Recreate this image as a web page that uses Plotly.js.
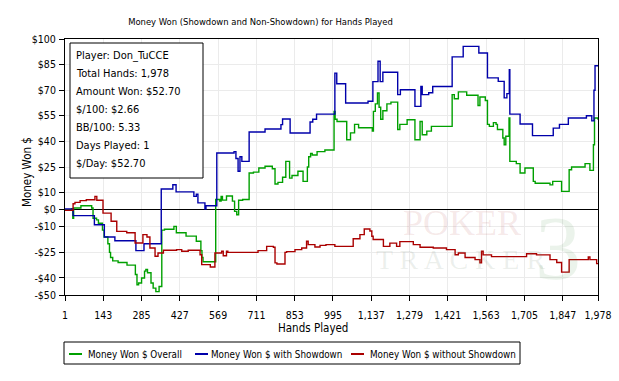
<!DOCTYPE html>
<html>
<head>
<meta charset="utf-8">
<script src="https://cdn.plot.ly/plotly-3.0.1.min.js"></script>
<style>html,body{margin:0;padding:0;background:#fff;}#chart{width:619px;height:381px;}</style>
</head>
<body>
<div id="chart"></div>
<script>
// ---- data ----
const overallHands = [1,25,30,33,60,100,105,118,125,140,146,160,166,170,178,198,231,262,268,274,285,296,301,307,320,328,338,350,360,370,405,414,450,488,505,509,513,560,575,580,585,600,622,630,638,645,660,684,700,720,743,770,780,791,808,820,834,843,865,884,900,905,912,918,936,965,999,1003,1010,1046,1060,1075,1090,1141,1145,1152,1160,1166,1172,1180,1195,1210,1235,1243,1270,1299,1318,1326,1343,1360,1437,1445,1460,1491,1533,1540,1560,1568,1575,1590,1600,1605,1625,1630,1636,1648,1651,1675,1689,1707,1738,1745,1800,1810,1843,1871,1880,1930,1948,1961,1965,1978];
const overallWon = [0,0.5,-5,1,2.3,1,-5,-6,-8,-12,-16,-20,-25,-28,-30,-31,-32.5,-38,-44,-43,-40,-36,-35,-37,-43,-46,-48,-45,-12,-11.5,-9.8,-13.5,-15.5,-18.5,-24,-28,-30.5,6,5,7.8,5.6,8,5,-1,-3,5.5,6,21.5,22,24.4,25.4,24,15,16,19,28.3,18.5,20,22.5,16.6,25,31,33,32,34,35,57.6,53,51.7,41,45,50,48,46,57.6,62,68.4,60,53,58,62,63,47,50,52.7,41,51.7,43.9,46,48.8,67.4,65,69,67,61,66,64,50,48.8,51,50,47,42,38,43,53.7,28.3,27,21.5,24.4,16.6,15.5,14.5,16.6,10.7,23.4,25,27,23,38,53.7,52.7];

const showdownHands = [1,31,110,147,186,264,294,358,401,413,479,488,494,520,524,564,628,635,643,650,657,684,743,802,808,836,910,920,934,1002,1009,1042,1125,1143,1162,1170,1180,1235,1245,1299,1321,1326,1350,1365,1437,1478,1536,1568,1608,1630,1640,1649,1651,1689,1735,1812,1835,1868,1935,1955,1963,1967,1978];
const showdownWon = [0.4,-3.5,-8.8,-16,-18.2,-24,-20,12.1,14.6,10.4,7.8,9,4,0.4,2.3,33.2,34,30,22.5,31,28.3,45.5,47.3,49.8,53.1,44.9,51.4,53,56,80,73.8,62.5,63.5,75,87,75,80.5,67.4,70.3,60.5,72.2,67.4,68.5,72.2,89.5,95.7,91.8,77.2,75.2,65.5,68,82,56,50.2,43.4,47.8,50,53.7,55,52,70,84.3,84.3];

const nonShowdownHands = [1,31,38,57,80,112,119,142,172,193,230,261,290,305,316,335,346,366,415,434,458,502,508,540,557,582,588,600,605,717,749,774,780,787,817,823,854,879,897,903,928,947,969,1002,1070,1095,1111,1132,1139,1144,1182,1206,1231,1243,1293,1318,1367,1416,1448,1460,1485,1522,1540,1546,1552,1583,1713,1750,1800,1825,1843,1871,1942,1948,1973,1978];
const nonShowdownWon = [-0.4,3.5,4.3,5.3,5.8,7.8,5.5,-2,-6.8,-12.7,-13.5,-19.5,-14.6,-16,-22.5,-27.3,-25.4,-23.8,-23.4,-24.4,-23.8,-26.4,-32.2,-33.6,-25.4,-24.4,-27,-24.4,-25,-24,-21.5,-22,-31.2,-31.8,-25,-24.6,-23.4,-22.5,-18.5,-20.5,-21.9,-20.9,-20.5,-21.5,-17,-14.6,-11.3,-12.5,-15.6,-17.5,-21.5,-19.6,-21.5,-18.7,-20.5,-22,-22.5,-23.4,-26.4,-25.4,-28,-29.3,-31.2,-24.4,-26.5,-27.5,-25.8,-26.5,-29.3,-31,-36.6,-29.3,-27.7,-29.3,-31.6,-31.6];

const seriesNames = ["Money Won $ Overall","Money Won $ with Showdown","Money Won $ without Showdown"];
const xTickVals = [1,143,285,427,569,711,853,995,1137,1279,1421,1563,1705,1847,1978];
const xTickText = ["1","143","285","427","569","711","853","995","1,137","1,279","1,421","1,563","1,705","1,847","1,978"];
const yTickVals = [100,85,70,55,40,25,10,0,-10,-25,-40,-50];
const yTickText = ["$100","$85","$70","$55","$40","$25","$10","$0","-$10","-$25","-$40","-$50"];
const infoLines = ["Player: Don_TuCCE","Total Hands: 1,978","Amount Won: $52.70","$/100: $2.66","BB/100: 5.33","Days Played: 1","$/Day: $52.70"];
const titleText = "Money Won (Showdown and Non-Showdown) for Hands Played";

// ---- chart ----
const FONT = "'DejaVu Sans Condensed', 'Liberation Sans', sans-serif";
const colors = ["#00a000","#0000aa","#aa0000"];
const seriesData = [
  {x: overallHands, y: overallWon},
  {x: showdownHands, y: showdownWon},
  {x: nonShowdownHands, y: nonShowdownWon}
];
const traces = seriesData.map((t,i) => ({
  x: t.x, y: t.y, type: "scatter", mode: "lines", name: seriesNames[i],
  line: {color: colors[i], width: 1.4, shape: "hv"}, hoverinfo: "x+y", showlegend: false
}));

// pixel helpers for placing decorations (plot area: x 65..598, y 39..295)
const px = v => (v - 65) / 533;
const py = v => (295 - v) / 256;

const annotations = [];
const shapes = [];
const lineY = [55, 73, 91, 109, 127, 145, 163];
infoLines.forEach((s, i) => annotations.push({
  xref: "paper", yref: "paper", x: px(74), y: py(lineY[i]), xanchor: "left", yanchor: "middle",
  text: s, showarrow: false, font: {family: FONT, size: 11, color: "#000"}
}));
shapes.push({type: "rect", xref: "paper", yref: "paper", x0: px(70), x1: px(203), y0: py(43), y1: py(178),
     line: {color: "#000", width: 1}, fillcolor: "#fff", layer: "above"});

annotations.push({xref:"paper", yref:"paper", x: px(313), y: py(328), text: "Hands Played",
  showarrow:false, xanchor:"center", yanchor:"middle", font:{family:FONT, size:11.5, color:"#000"}});
annotations.push({xref:"paper", yref:"paper", x: px(27), y: py(172), text: "Money Won $", textangle: -90,
  showarrow:false, xanchor:"center", yanchor:"middle", font:{family:FONT, size:11.5, color:"#000"}});

// legend (drawn as box + samples + labels)
shapes.push({type: "rect", xref: "paper", yref: "paper", x0: px(64), x1: px(520), y0: py(342), y1: py(364),
     line: {color: "#000", width: 1}, fillcolor: "#fff", layer: "above"});
const legendSampleX = [69, 195, 351];
const legendTextX = [86, 209, 368];
seriesNames.forEach((n, i) => {
  shapes.push({type: "line", xref: "paper", yref: "paper", x0: px(legendSampleX[i]), x1: px(legendSampleX[i] + 13),
     y0: py(354), y1: py(354), line: {color: colors[i], width: 2}, layer: "above"});
  annotations.push({xref: "paper", yref: "paper", x: px(legendTextX[i]), y: py(354), xanchor: "left", yanchor: "middle",
     text: n, showarrow: false, font: {family: FONT, size: 9.8, color: "#000"}});
});

// faint watermark
annotations.push({xref:"paper", yref:"paper", x: px(462), y: py(223), xanchor:"center", yanchor:"middle", text: "POKER", showarrow:false,
  font:{family:"'Liberation Serif', serif", size:36, color:"rgba(190,90,90,0.14)"}});
annotations.push({xref:"paper", yref:"paper", x: px(460), y: py(259), xanchor:"center", yanchor:"middle", text: "T R A C K E R", showarrow:false,
  font:{family:"'Liberation Serif', serif", size:28, color:"rgba(110,130,110,0.13)"}});
annotations.push({xref:"paper", yref:"paper", x: px(558), y: py(248), xanchor:"center", yanchor:"middle", text: "3", showarrow:false,
  font:{family:"'Liberation Serif', serif", size:92, color:"rgba(60,140,60,0.10)"}});

const layout = {
  width: 619, height: 381,
  margin: {l: 65, r: 21, t: 39, b: 86, pad: 0},
  paper_bgcolor: "#fff", plot_bgcolor: "#fff",
  font: {family: FONT, size: 11, color: "#000"},
  title: {text: titleText, x: 260.5/619, xanchor: "center", xref: "container",
          y: 1 - 22/381, yanchor: "middle", yref: "container", font: {family: FONT, size: 9.4, color: "#000"}},
  showlegend: false,
  xaxis: {range: [1, 1978], tickmode: "array", tickvals: xTickVals, ticktext: xTickText,
          ticks: "outside", ticklen: 5, tickcolor: "#000", tickwidth: 1, ticklabelstandoff: 5,
          showline: true, linecolor: "#000", linewidth: 1, mirror: true,
          showgrid: true, gridcolor: "#ebebeb", gridwidth: 1, zeroline: false,
          tickfont: {family: FONT, size: 10.5, color: "#000"}, fixedrange: true},
  yaxis: {range: [-50, 100], tickmode: "array", tickvals: yTickVals, ticktext: yTickText,
          ticks: "outside", ticklen: 5, tickcolor: "#000", tickwidth: 1, ticklabelstandoff: 1,
          showline: true, linecolor: "#000", linewidth: 1, mirror: true,
          showgrid: true, gridcolor: "#ebebeb", gridwidth: 1,
          zeroline: true, zerolinecolor: "#000", zerolinewidth: 1,
          tickfont: {family: FONT, size: 10.5, color: "#000"}, fixedrange: true},
  shapes: shapes,
  annotations: annotations
};

Plotly.newPlot("chart", traces, layout, {displayModeBar: false, staticPlot: true});
</script>
</body>
</html>
